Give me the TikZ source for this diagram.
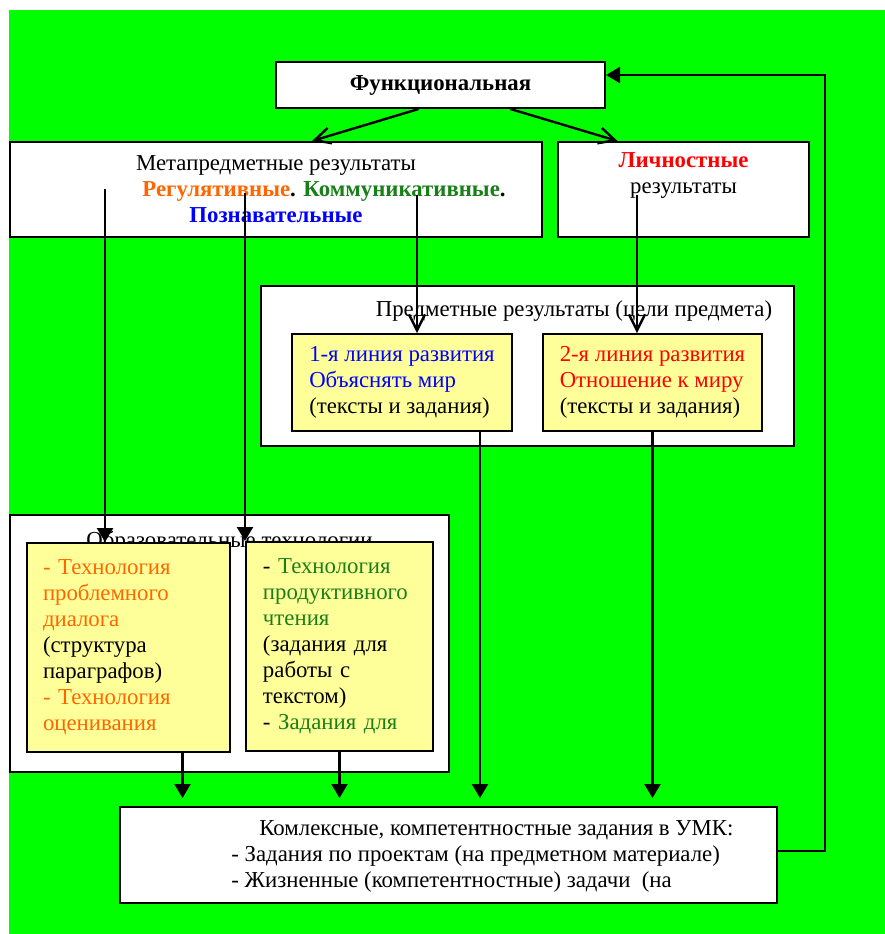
\documentclass[tikz,border=0pt]{standalone}
\usepackage{fontspec}
\setmainfont{Liberation Serif}
\usetikzlibrary{arrows.meta}
\definecolor{bggreen}{HTML}{00FF00}
\definecolor{paleyellow}{HTML}{FFFF99}
\definecolor{orng}{HTML}{FF6600}
\definecolor{dgreen}{HTML}{1A7F1A}

\begin{document}
\begin{tikzpicture}[x=0.5pt, y=-0.5pt,
    txt/.style={font=\fontsize{11.4}{13}\selectfont},
    box/.style={txt, draw, line width=1pt, fill=white, inner sep=0pt},
    ybox/.style={txt, draw, line width=1pt, fill=paleyellow, align=left, inner xsep=8pt},
    conn/.style={line width=1.2pt},
    fat/.style={conn, -{Triangle[length=7pt, width=8pt]}},
    barb/.style={conn, -{Straight Barb[length=8pt, width=8pt]}}]
    \useasboundingbox (0,0) rectangle (885,934);
    \fill[white] (0,0) rectangle (885,934);
    \fill[bggreen] (9,10) rectangle (885,934);

    % top
    \node[box, minimum width=164.5pt, minimum height=23pt, font={\fontsize{11.4}{13}\selectfont\bfseries}] (func) at (440.5,85) {Функциональная};
    \node[box, minimum width=266pt, minimum height=47.5pt, align=center] (meta) at (276,189.5)
        {Метапредметные результаты\\
         \hspace*{48pt}\textbf{\textcolor{orng}{Регулятивные}. \textcolor{dgreen}{Коммуникативные}.}\\
         \textbf{\textcolor{blue}{Познавательные}}};
    \node[box, minimum width=125.5pt, minimum height=47.5pt, align=center] (pers) at (683.5,189.5)
        {\textbf{\textcolor{red}{Личностные}}\\результаты\\\strut};

    % subject results
    \node[box, minimum width=266.5pt, minimum height=80pt] (subj) at (527.5,366) {};
    \node[txt] (subjtitle) at (574,311) {Предметные результаты (цели предмета)};
    \node[ybox, minimum width=110pt, minimum height=48.5pt] (s1) at (402,382.5)
        {\textcolor{blue}{1-я линия развития}\\\textcolor{blue}{Объяснять мир}\\(тексты и задания)};
    \node[ybox, minimum width=109.5pt, minimum height=48.5pt] (s2) at (652.5,382.5)
        {\textcolor{red}{2-я линия развития}\\\textcolor{red}{Отношение к миру}\\(тексты и задания)};

    % technologies
    \node[box, minimum width=219.5pt, minimum height=128.5pt] (tech) at (229.5,643.5) {};
    \node[txt, anchor=base] (techtitle) at (229.5,547) {Образовательные технологии};
    \node[ybox, text width=85.5pt, minimum height=104.5pt] (tA) at (128.5,647.5)
        {\textcolor{orng}{- Технология}\\\textcolor{orng}{проблемного}\\\textcolor{orng}{диалога}\\(структура\\параграфов)\\\textcolor{orng}{- Технология}\\\textcolor{orng}{оценивания}};
    \node[ybox, inner xsep=8.5pt, text width=76.5pt, minimum height=104.5pt] (tB) at (339.5,646.5)
        {- \textcolor{dgreen}{Технология}\\\textcolor{dgreen}{продуктивного}\\\textcolor{dgreen}{чтения}\\(задания для\\работы с\\текстом)\\- \textcolor{dgreen}{Задания для}};

    % bottom
    \node[box, minimum width=328.5pt, minimum height=48pt] (bot) at (448.5,855) {};
    \node[txt, anchor=west, align=left, inner sep=0pt] (bottxt) at (231,856.5)
        {\hspace*{14pt}Комлексные, компетентностные задания в УМК:\\
         - Задания по проектам (на предметном материале)\\
         - Жизненные (компетентностные) задачи~~(на};

    \coordinate (mL) at (105,189);
    \coordinate (mM) at (245,193);
    \coordinate (mR) at (417,195);
    \coordinate (pL) at (637,195);
    \coordinate (fb) at (825,75);
    \coordinate (s1b) at ([xshift=39pt]s1.south);
    \coordinate (s2b) at (s2.south);
    \coordinate (tAb) at ([xshift=27pt]tA.south);
    \coordinate (tBb) at (tB.south);

    \draw[barb] ([xshift=-11pt]func.south) -- ([xshift=18pt]meta.north);
    \draw[barb] ([xshift=35pt]func.south) -- ([xshift=-33pt]pers.north);
    \draw[fat] (mL) -- (mL |- tA.north);
    \draw[fat] (mM) -- (mM |- tB.north);
    \draw[barb] (mR) -- (mR |- s1.north);
    \draw[barb] (pL) -- (pL |- s2.north);
    \draw[fat, shorten >=4pt] (tAb) -- (tAb |- bot.north);
    \draw[fat, shorten >=4pt] (tBb) -- (tBb |- bot.north);
    \draw[fat, shorten >=4pt] (s1b) -- (s1b |- bot.north);
    \draw[fat, shorten >=4pt] (s2b) -- (s2b |- bot.north);
    \draw[fat] ([yshift=2pt]bot.east) -| (fb) -- (fb -| func.east);
\end{tikzpicture}
\end{document}
